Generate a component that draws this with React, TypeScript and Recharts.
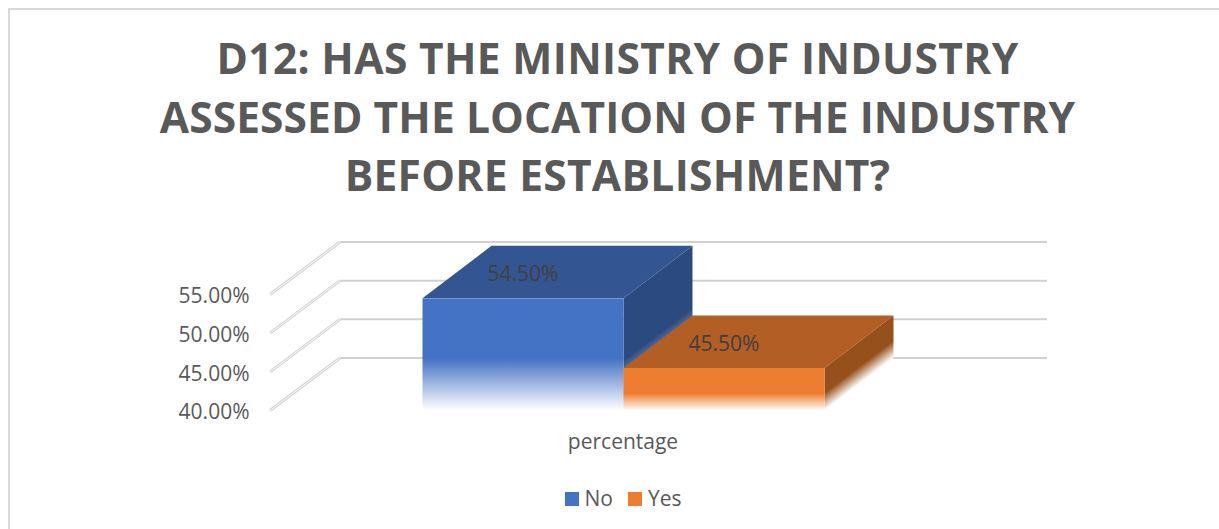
import { BarChart, Bar, XAxis, YAxis, CartesianGrid, Legend, LabelList } from 'recharts';

const categories = ['percentage'];
const noValues = [54.5];
const yesValues = [45.5];
const yTicks = [40, 45, 50, 55];
const titleLines = [
  'D12: HAS THE MINISTRY OF INDUSTRY',
  'ASSESSED THE LOCATION OF THE INDUSTRY',
  'BEFORE ESTABLISHMENT?',
];
const titleSpacing = [0.34, 0.08, 0.3];

const chartData = categories.map((c, i) => ({ category: c, No: noValues[i], Yes: yesValues[i] }));

const FONT = '"Open Sans", sans-serif';
const DEPTH_X = 69;
const DEPTH_Y = 52.5;

const WallLine = ({ x1, y1, x2 }) => {
  const backX = x1 + DEPTH_X + 1.5;
  const backY = y1 - DEPTH_Y;
  return (
    <g fill="none">
      <line x1={x1 + 0.5} y1={y1} x2={backX} y2={backY} stroke="#d4d4d4" strokeWidth={3} />
      <line x1={x1 + 0.5} y1={y1} x2={backX} y2={backY} stroke="#fafafa" strokeWidth={1} />
      <line x1={backX} y1={backY} x2={x2 + DEPTH_X + 1.5} y2={backY} stroke="#d0d0d0" strokeWidth={2} />
    </g>
  );
};

const Box3D = ({ x, y, width, height, id, front, top, side, fade }) => {
  const bottom = y + height;
  const stop = Math.max(0, 1 - fade / height);
  // side face fades along the normal of its slanted bottom edge
  const nx = 0.605;
  const ny = 0.796;
  const sideFade = fade > 30 ? 40 : 14;
  const px = x + width;
  return (
    <g>
      <defs>
        <linearGradient id={`front-${id}`} x1="0" y1={y} x2="0" y2={bottom} gradientUnits="userSpaceOnUse">
          <stop offset={stop} stopColor={front} />
          <stop offset={1} stopColor="#ffffff" />
        </linearGradient>
        <linearGradient
          id={`side-${id}`}
          x1={px - nx * sideFade}
          y1={bottom - ny * sideFade}
          x2={px}
          y2={bottom}
          gradientUnits="userSpaceOnUse"
        >
          <stop offset={0} stopColor={side} />
          <stop offset={1} stopColor="#ffffff" />
        </linearGradient>
      </defs>
      <polygon
        points={`${x},${y} ${x + width},${y} ${x + width + DEPTH_X},${y - DEPTH_Y} ${x + DEPTH_X},${y - DEPTH_Y}`}
        fill={top}
      />
      <polygon
        points={`${x + width},${y} ${x + width + DEPTH_X},${y - DEPTH_Y} ${x + width + DEPTH_X},${bottom - DEPTH_Y} ${x + width},${bottom}`}
        fill={`url(#side-${id})`}
      />
      <rect x={x} y={y} width={width} height={height} fill={`url(#front-${id})`} />
    </g>
  );
};

const fmt = (v) => `${Number(v).toFixed(2)}%`;

export default function App() {
  return (
    <div
      style={{
        position: 'absolute',
        left: 0,
        top: 0,
        width: 1219,
        height: 529,
        background: '#fff',
        overflow: 'hidden',
      }}
    >
      <div
        style={{
          position: 'absolute',
          left: 8,
          top: 8,
          right: 0,
          bottom: 0,
          borderLeft: '2px solid #d9d9d9',
          borderTop: '2px solid #d9d9d9',
        }}
      />
      <BarChart
        width={1219}
        height={529}
        data={chartData}
        barSize={201}
        barGap={0}
        margin={{ top: 294.5, right: 242.5, left: 209.5, bottom: 16 }}
        style={{ position: 'absolute', left: 0, top: 0 }}
      >
        <CartesianGrid vertical={false} horizontal={WallLine} />
        <XAxis
          dataKey="category"
          height={74.5}
          axisLine={false}
          tickLine={false}
          tickMargin={18}
          tick={{ fill: '#595959', fontSize: 21, fontFamily: FONT }}
        />
        <YAxis
          width={60}
          domain={[40, 55]}
          ticks={yTicks}
          tickFormatter={fmt}
          axisLine={false}
          tickLine={false}
          tickMargin={14}
          tick={{ fill: '#595959', fontSize: 21, fontFamily: FONT, dy: 1.5 }}
        />
        <Legend
          height={28}
          iconType="square"
          iconSize={14}
          wrapperStyle={{ left: 247, bottom: 20 }}
          formatter={(v) => (
            <span
              style={{
                color: '#595959',
                fontSize: 21,
                fontFamily: FONT,
                marginLeft: 2,
                marginRight: 5,
                position: 'relative',
                top: 3,
              }}
            >
              {v}
            </span>
          )}
        />
        <Bar
          dataKey="No"
          fill="#4472c4"
          isAnimationActive={false}
          shape={(p) => <Box3D {...p} id="no" front="#4472c4" top="#335693" side="#2b4a80" fade={52} />}
        >
          <LabelList dataKey="No" position="top" offset={17} formatter={fmt} fill="#404040" fontSize={21} fontFamily={FONT} />
        </Bar>
        <Bar
          dataKey="Yes"
          fill="#ed7d31"
          isAnimationActive={false}
          shape={(p) => <Box3D {...p} id="yes" front="#ed7d31" top="#b35e24" side="#96501c" fade={17} />}
        >
          <LabelList dataKey="Yes" position="top" offset={17} formatter={fmt} fill="#404040" fontSize={21} fontFamily={FONT} />
        </Bar>
      </BarChart>
      {titleLines.map((t, i) => (
        <div
          key={t}
          style={{
            position: 'absolute',
            left: 16,
            right: 0,
            top: 30 + i * 58.5,
            lineHeight: '56px',
            textAlign: 'center',
            fontFamily: FONT,
            fontWeight: 700,
            fontSize: 42.5,
            letterSpacing: titleSpacing[i],
            color: '#595959',
            whiteSpace: 'nowrap',
          }}
        >
          {t}
        </div>
      ))}
    </div>
  );
}
